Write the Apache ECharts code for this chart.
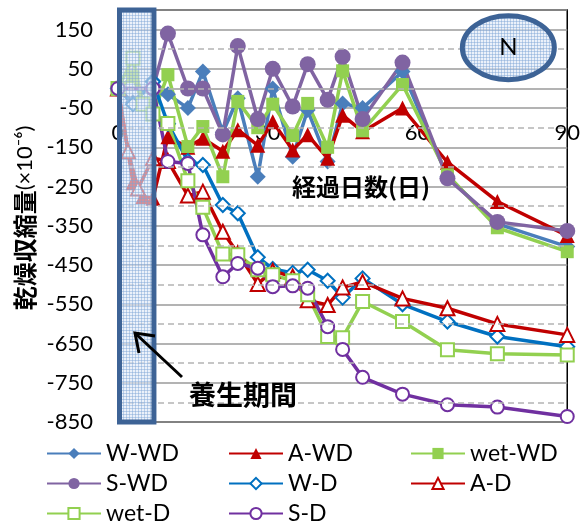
<!DOCTYPE html>
<html><head><meta charset="utf-8">
<script src="https://cdn.jsdelivr.net/npm/echarts@6/dist/echarts.min.js"></script>
<style>html,body{margin:0;padding:0;background:#fff}#c{width:583px;height:522px}</style>
</head><body><div id="c"></div>
<script>
// ---- data ----
const xTicks = [0, 30, 60, 90];
const yTicks = [-850, -750, -650, -550, -450, -350, -250, -150, -50, 50, 150];
const minorLines = [100, 0, -100, -200, -300, -400, -500, -600, -700, -800];
const postDays = [10, 14, 17, 21, 24, 28, 31, 35, 38, 42, 45, 49, 57, 66, 76, 90];
const curePeriod = [0, 7.2];

const wwdCureDays = [0, 3, 7];     const wwdCure = [0, -35, 20];
const wwdPost = [-15, -50, 43, -112, -25, -225, 0, -174, -55, -186, -38, -50, 43, -225, -345, -403];
const awdCureDays = [0, 3, 5, 7];  const awdCure = [0, -240, -275, -280];
const awdPost = [-123, -150, -127, -160, -105, -145, -85, -157, -118, -178, -68, -110, -50, -188, -288, -375];
const wetwdCureDays = [0, 3, 5, 7]; const wetwdCure = [0, 30, -37, -65];
const wetwdPost = [35, -148, -97, -225, -33, -100, -40, -120, -38, -150, 45, -108, 10, -220, -355, -416];
const swdCureDays = [0, 7];        const swdCure = [0, 0];
const swdPost = [140, 0, 0, -117, 108, -78, 50, -46, 62, -29, 81, -78, 66, -229, -340, -363];
const wdCureDays = [0, 3, 7];      const wdCure = [0, -40, 17];
const wdPost = [-90, -185, -195, -297, -318, -430, -460, -470, -462, -490, -533, -484, -550, -594, -632, -658];
const adCureDays = [0, 2, 4, 7];   const adCure = [0, -160, -255, -178];
const adPost = [-185, -273, -263, -365, -420, -498, -465, -480, -540, -552, -507, -493, -535, -560, -600, -628];
const wetdCureDays = [0, 3, 5, 7]; const wetdCure = [0, 77, -40, -65];
const wetdPost = [-89, -235, -303, -422, -424, -462, -475, -490, -526, -632, -635, -543, -594, -666, -676, -679];
const sdCureDays = [0, 7];         const sdCure = [0, 0];
const sdPost = [-186, -191, -373, -480, -446, -458, -505, -503, -509, -607, -665, -736, -779, -806, -812, -836];

function pairs(cd, cv, pv) {
  return cd.map((d, i) => [d, cv[i]]).concat(postDays.map((d, i) => [d, pv[i]]));
}

const C = {blue:'#4a7ebb', red:'#c00000', green:'#92d050', purple:'#8064a2', blue2:'#0070c0', purple2:'#7030a0'};
const FONT = 'Lato';

function mk(name, data, color, symbol, size, empty) {
  return {
    name, type: 'line', data, symbol, symbolSize: size, clip: false,
    lineStyle: {color, width: 3.5},
    itemStyle: {color, borderWidth: empty ? 3 : 0},
    emphasis: {disabled: true}, animation: false
  };
}

const series = [
  mk('W-WD', pairs(wwdCureDays, wwdCure, wwdPost), C.blue, 'diamond', 16, false),
  mk('A-WD', pairs(awdCureDays, awdCure, awdPost), C.red, 'triangle', 15, false),
  mk('wet-WD', pairs(wetwdCureDays, wetwdCure, wetwdPost), C.green, 'rect', 13, false),
  mk('S-WD', pairs(swdCureDays, swdCure, swdPost), C.purple, 'circle', 16, false),
  mk('W-D', pairs(wdCureDays, wdCure, wdPost), C.blue2, 'emptyDiamond', 14, true),
  mk('A-D', pairs(adCureDays, adCure, adPost), C.red, 'emptyTriangle', 14, true),
  mk('wet-D', pairs(wetdCureDays, wetdCure, wetdPost), C.green, 'emptyRect', 13, true),
  mk('S-D', pairs(sdCureDays, sdCure, sdPost), C.purple2, 'emptyCircle', 13, true),
  {
    name: 'minor', type: 'line', data: [], silent: true, z: 1,
    markLine: {
      silent: true, symbol: 'none', label: {show: false}, animation: false,
      lineStyle: {color: '#b4b4b4', type: [6, 4], width: 1.6},
      data: minorLines.map(v => ({yAxis: v}))
    }
  }
];

const legendText = {fontFamily: FONT, fontSize: 23, color: '#000', lineHeight: 20};
function legendCol(left, names) {
  return {
    orient: 'vertical', left, top: 442, height: 100, padding: 0, itemWidth: 54, itemHeight: 14, itemGap: 7,
    data: names, textStyle: legendText, selectedMode: false
  };
}

// pattern
const pc = document.createElement('canvas');
pc.width = 3; pc.height = 3;
const pctx = pc.getContext('2d');
pctx.fillStyle = 'rgba(222,233,247,0.62)';
pctx.fillRect(0, 0, 3, 3);
pctx.fillStyle = 'rgba(125,163,212,0.45)';
pctx.fillRect(0, 0, 3, 1);
pctx.fillRect(0, 0, 1, 3);

const chart = echarts.init(document.getElementById('c'), null, {renderer: 'canvas'});
const option = {
  animation: false,
  backgroundColor: '#fff',
  grid: {left: 118, right: 15, top: 10, bottom: 100, show: true, borderColor: '#000', borderWidth: 1.5, backgroundColor: 'transparent'},
  xAxis: {
    type: 'value', min: 0, max: 90, interval: 30,
    axisLine: {show: true, onZero: false, lineStyle: {color: '#9a9a9a', width: 1.6}},
    axisTick: {show: false},
    axisLabel: {margin: 33, fontFamily: FONT, fontSize: 22, color: '#000',
      formatter: v => xTicks.includes(v) ? String(v) : ''},
    splitLine: {show: false}
  },
  yAxis: {
    type: 'value', min: -850, max: 200, interval: 100,
    axisLine: {show: false}, axisTick: {show: false},
    axisLabel: {margin: 25, fontFamily: FONT, fontSize: 22, color: '#000',
      formatter: v => yTicks.includes(v) ? String(v) : ''},
    splitLine: {show: true, lineStyle: {color: '#9a9a9a', width: 1.6}}
  },
  legend: [
    legendCol(46, ['W-WD', 'S-WD', 'wet-D']),
    legendCol(228, ['A-WD', 'W-D', 'S-D']),
    legendCol(410, ['wet-WD', 'A-D'])
  ],
  series
};
chart.setOption(option);

// move x axis to cross at y = 0 using the y scale
const yZero = chart.convertToPixel({yAxisIndex: 0}, 0);
const yBottom = chart.convertToPixel({yAxisIndex: 0}, -850);
chart.setOption({xAxis: {offset: -(yBottom - yZero)}});

// annotations placed through the axes' scales
const p0 = chart.convertToPixel({gridIndex: 0}, [curePeriod[0], 200]);
const p1 = chart.convertToPixel({gridIndex: 0}, [curePeriod[1], -850]);
const ell = chart.convertToPixel({gridIndex: 0}, [78.2, 104]);
const pattern = {image: pc, repeat: 'repeat'};

chart.setOption({
  graphic: [
    {type: 'rect', z: 50, silent: true,
      shape: {x: p0[0] + 1.5, y: p0[1], width: p1[0] - p0[0] - 1.5, height: p1[1] - p0[1]},
      style: {fill: pattern, stroke: '#3d6396', lineWidth: 5}},
    {type: 'ellipse', z: 50, silent: true,
      shape: {cx: ell[0], cy: ell[1], rx: 46, ry: 32},
      style: {fill: pattern, stroke: '#3d6396', lineWidth: 5}},
    {type: 'text', z: 51, silent: true, x: ell[0], y: ell[1],
      style: {text: 'N', fontFamily: FONT, fontSize: 24, fill: '#000', align: 'center', verticalAlign: 'middle'}},
    {type: 'text', z: 51, silent: true, x: 361, y: 187,
      style: {text: '経過日数(日)', fontFamily: 'Noto Sans CJK JP', fontWeight: 'bold', fontSize: 24, fill: '#000', align: 'center', verticalAlign: 'middle'}},
    {type: 'text', z: 51, silent: true, x: 243, y: 395,
      style: {text: '養生期間', fontFamily: 'Noto Sans CJK JP', fontWeight: 'bold', fontSize: 27, fill: '#000', align: 'center', verticalAlign: 'middle'}},
    {type: 'line', z: 51, silent: true,
      shape: {x1: 182, y1: 377, x2: 136, y2: 334},
      style: {stroke: '#000', lineWidth: 3}},
    {type: 'polyline', z: 51, silent: true,
      shape: {points: [[155, 336], [135, 333], [139, 353]]},
      style: {stroke: '#000', lineWidth: 3, fill: null}},
    {type: 'text', z: 51, silent: true, x: 25, y: 218, rotation: Math.PI / 2,
      style: {
        text: '{b|乾燥収縮量}{n|(×10⁻⁶)}', align: 'center', verticalAlign: 'middle',
        rich: {
          b: {fontFamily: 'Noto Sans CJK JP', fontWeight: 'bold', fontSize: 24, fill: '#000'},
          n: {fontFamily: FONT, fontSize: 22, fill: '#000'}
        }
      }}
  ]
});
</script></body></html>
